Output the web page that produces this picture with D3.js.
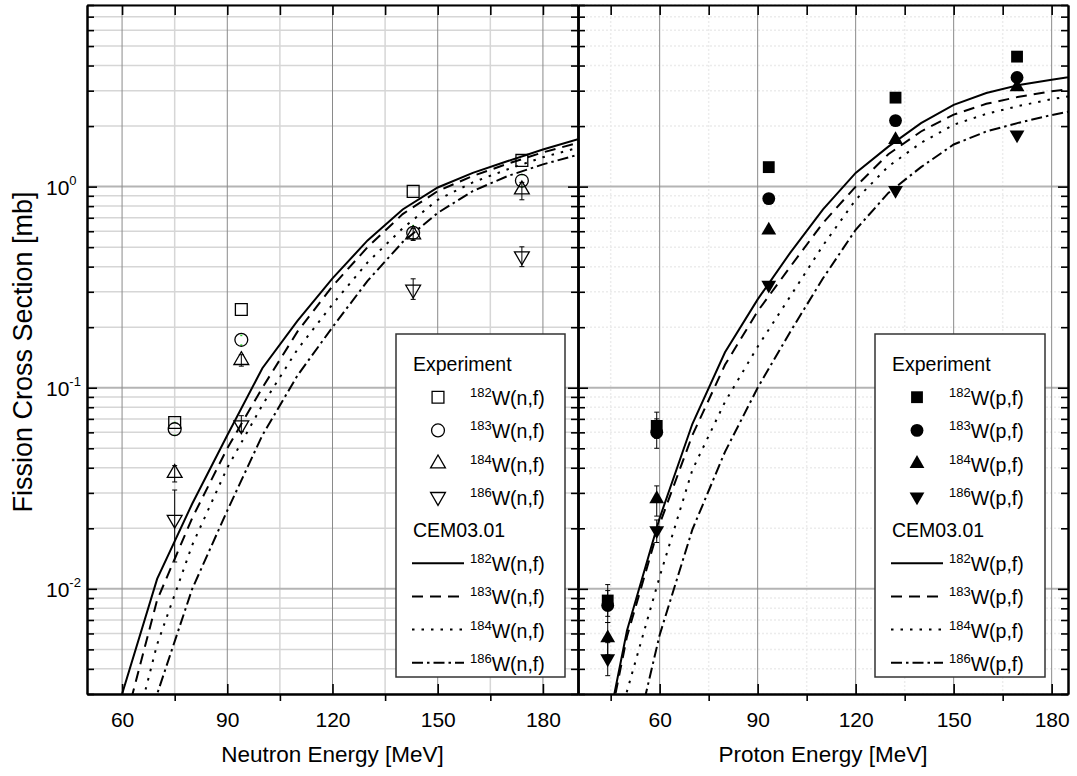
<!DOCTYPE html>
<html>
<head>
<meta charset="utf-8">
<script src="https://cdn.jsdelivr.net/npm/d3@7"></script>
<style>
  body { margin: 0; background: #fff; }
  svg { display: block; font-family: "Liberation Sans", Arial, sans-serif; }
</style>
</head>
<body>
<svg id="chart" width="1077" height="776"></svg>
<script>
// ---------------- data ----------------
var xMajor = [60, 90, 120, 150, 180];
var yDecades = [0.01, 0.1, 1];
var yDecadeLabels = ["-2", "-1", "0"];

// neutron induced fission, experiment
var nE = [75, 94, 143, 174];
var n182 = [0.0672, 0.245, 0.947, 1.35];
var n183 = [0.0622, 0.173, 0.589, 1.07];
var n183Lo = [0.058, 0.163, 0.55, 1.0];
var n183Hi = [0.0672, 0.182, 0.64, 1.147];
var n184 = [0.0376, 0.137, 0.578, 0.966];
var n184Lo = [0.034, 0.128, 0.54, 0.86];
var n184Hi = [0.041, 0.146, 0.62, 1.05];
var n186 = [0.0221, 0.0652, 0.308, 0.451];
var n186Lo = [0.0136, 0.0605, 0.275, 0.40];
var n186Hi = [0.031, 0.0726, 0.348, 0.502];

// neutron, CEM03.01
var nCalcE = [60, 70, 80, 90, 100, 110, 120, 130, 140, 150, 160, 170, 180, 190];
var n182Calc = [0.003, 0.0112, 0.0265, 0.058, 0.125, 0.215, 0.35, 0.54, 0.77, 0.99, 1.17, 1.34, 1.53, 1.72];
var n183Calc = [0.0019, 0.0088, 0.0225, 0.050, 0.10, 0.19, 0.32, 0.50, 0.73, 0.95, 1.13, 1.30, 1.48, 1.65];
var n184Calc = [0.0011, 0.0053, 0.0165, 0.040, 0.082, 0.155, 0.26, 0.42, 0.62, 0.86, 1.05, 1.22, 1.40, 1.56];
var n186Calc = [0.0008, 0.003, 0.010, 0.0245, 0.058, 0.115, 0.20, 0.34, 0.53, 0.74, 0.95, 1.13, 1.29, 1.44];

// proton induced fission, experiment
var pE = [44.1, 59.1, 93.4, 132.2, 169.4];
var p182 = [0.00875, 0.0646, 1.25, 2.77, 4.43];
var p182Lo = [0.0073, 0.056, 1.25, 2.77, 4.43];
var p182Hi = [0.0105, 0.0756, 1.25, 2.77, 4.43];
var p183 = [0.00826, 0.060, 0.872, 2.13, 3.49];
var p183Lo = [0.0068, 0.050, 0.872, 2.13, 3.49];
var p183Hi = [0.0098, 0.070, 0.872, 2.13, 3.49];
var p184 = [0.00569, 0.028, 0.607, 1.71, 3.13];
var p184Lo = [0.0047, 0.023, 0.607, 1.71, 3.13];
var p184Hi = [0.0068, 0.0325, 0.607, 1.71, 3.13];
var p186 = [0.0045, 0.0195, 0.324, 0.959, 1.81];
var p186Lo = [0.0037, 0.017, 0.324, 0.959, 1.81];
var p186Hi = [0.0054, 0.022, 0.324, 0.959, 1.81];

// proton, CEM03.01
var pCalcE = [40, 50, 60, 70, 80, 90, 100, 110, 120, 130, 140, 150, 160, 170, 180, 190];
var p182Calc = [0.00095, 0.0062, 0.0225, 0.066, 0.15, 0.275, 0.47, 0.77, 1.17, 1.58, 2.07, 2.55, 2.92, 3.2, 3.4, 3.6];
var p183Calc = [0.0009, 0.0058, 0.021, 0.058, 0.13, 0.24, 0.40, 0.66, 1.0, 1.45, 1.88, 2.28, 2.58, 2.8, 2.98, 3.12];
var p184Calc = [0.0005, 0.0031, 0.0115, 0.039, 0.085, 0.16, 0.285, 0.51, 0.86, 1.26, 1.65, 2.03, 2.3, 2.52, 2.72, 2.9];
var p186Calc = [0.0002, 0.0012, 0.0059, 0.0197, 0.048, 0.10, 0.19, 0.35, 0.61, 0.93, 1.25, 1.62, 1.88, 2.08, 2.27, 2.44];

// ---------------- layout ----------------
var svg = d3.select("#chart");
var plotTop = 5, plotBottom = 694;
var y = d3.scaleLog().domain([0.003, 8]).range([plotBottom, plotTop]);

var yMinor = [];
[0.001, 0.01, 0.1, 1].forEach(function(d) {
  for (var k = 2; k <= 9; k++) {
    var v = d * k;
    if (v >= 0.003 && v <= 8.0001) yMinor.push(v);
  }
});

var dashes = { solid: null, dash: "11,7", dot: "2.5,7", dashdot: "11,4,2.5,4" };

function isoLabel(sel, mass, rest) {
  sel.append("tspan").attr("font-size", 13).attr("dy", -8).text(mass);
  sel.append("tspan").attr("font-size", 19.5).attr("dy", 8).text(rest);
}

function drawPanel(cfg) {
  var x = d3.scaleLinear().domain(cfg.xDomain).range([cfg.x0, cfg.x1]);
  var g = svg.append("g");

  g.append("clipPath").attr("id", cfg.id + "-clip")
    .append("rect").attr("x", cfg.x0).attr("y", plotTop)
    .attr("width", cfg.x1 - cfg.x0).attr("height", plotBottom - plotTop);

  // grid
  var grid = g.append("g");
  grid.selectAll(".ym").data(yMinor).enter().append("line")
    .attr("x1", cfg.x0).attr("x2", cfg.x1)
    .attr("y1", d => y(d)).attr("y2", d => y(d))
    .attr("stroke", cfg.minorColor).attr("stroke-width", 1.5)
    .attr("stroke-dasharray", cfg.minorDash);
  grid.selectAll(".xm").data(cfg.xMinor).enter().append("line")
    .attr("x1", d => x(d)).attr("x2", d => x(d))
    .attr("y1", plotTop).attr("y2", plotBottom)
    .attr("stroke", cfg.minorColor).attr("stroke-width", 1.5)
    .attr("stroke-dasharray", cfg.minorDash);
  grid.selectAll(".yM").data(yDecades).enter().append("line")
    .attr("x1", cfg.x0).attr("x2", cfg.x1)
    .attr("y1", d => y(d)).attr("y2", d => y(d))
    .attr("stroke", "#b4b4b4").attr("stroke-width", 2);
  grid.selectAll(".xM").data(xMajor).enter().append("line")
    .attr("x1", d => x(d)).attr("x2", d => x(d))
    .attr("y1", plotTop).attr("y2", plotBottom)
    .attr("stroke", "#8a8a8a").attr("stroke-width", 1);

  // model curves
  var line = d3.line().x(d => x(d[0])).y(d => y(d[1]));
  var plot = g.append("g").attr("clip-path", "url(#" + cfg.id + "-clip)");
  cfg.curves.forEach(function(c) {
    plot.append("path")
      .datum(cfg.calcE.map((e, i) => [e, c.values[i]]))
      .attr("d", line)
      .attr("fill", "none").attr("stroke", "#000").attr("stroke-width", 2)
      .attr("stroke-dasharray", dashes[c.style]);
  });

  // experimental points
  cfg.series.forEach(function(s) {
    var pts = cfg.expE.map((e, i) => ({ e: e, v: s.values[i],
      lo: s.lo ? s.lo[i] : s.values[i], hi: s.hi ? s.hi[i] : s.values[i] }));
    var eg = plot.append("g").attr("stroke", s.errColor || "#000").attr("stroke-width", s.errColor ? 1.5 : 1);
    var cap = s.errColor ? 1 : 2.5;
    pts.filter(d => d.hi > d.lo).forEach(function(d) {
      if (!s.errColor) {
        eg.append("line").attr("x1", x(d.e)).attr("x2", x(d.e)).attr("y1", y(d.lo)).attr("y2", y(d.hi));
      }
      eg.append("line").attr("x1", x(d.e) - cap).attr("x2", x(d.e) + cap).attr("y1", y(d.lo)).attr("y2", y(d.lo));
      eg.append("line").attr("x1", x(d.e) - cap).attr("x2", x(d.e) + cap).attr("y1", y(d.hi)).attr("y2", y(d.hi));
    });
    plot.selectAll(null).data(pts).enter().append("path")
      .attr("d", d3.symbol().type(s.shape).size(s.size))
      .attr("transform", d => "translate(" + x(d.e) + "," + y(d.v) + ")" + (s.flip ? " rotate(180)" : ""))
      .attr("fill", cfg.filled ? "#000" : "none")
      .attr("stroke", "#000").attr("stroke-width", cfg.filled ? 0 : 1.3);
  });

  // axes (ticks inward)
  var axes = g.append("g");
  function ax(axis, tr) {
    var a = axes.append("g").attr("transform", tr).call(axis);
    a.select(".domain").attr("stroke", "#000").attr("stroke-width", 2);
    a.selectAll(".tick line").attr("stroke", "#000").attr("stroke-width", 1.6);
    return a;
  }
  var xb = ax(d3.axisBottom(x).tickValues(xMajor).tickSize(-10).tickSizeOuter(0).tickPadding(18),
    "translate(0," + plotBottom + ")");
  xb.selectAll("text").attr("font-size", 21).attr("fill", "#000")
    .attr("font-family", "Liberation Sans, Arial, sans-serif");
  ax(d3.axisBottom(x).tickValues(cfg.xMinor).tickSize(7).tickSizeOuter(0).tickFormat(""),
    "translate(0," + plotBottom + ")");
  ax(d3.axisTop(x).tickValues(xMajor.concat(cfg.xMinor)).tickSize(-10).tickSizeOuter(0).tickFormat(""),
    "translate(0," + plotTop + ")");
  ax(d3.axisLeft(y).tickValues(yDecades).tickSize(-10).tickSizeOuter(0).tickFormat(""),
    "translate(" + cfg.x0 + ",0)");
  ax(d3.axisLeft(y).tickValues(yMinor).tickSize(-7).tickSizeOuter(0).tickFormat(""),
    "translate(" + cfg.x0 + ",0)");
  ax(d3.axisRight(y).tickValues(yDecades).tickSize(-10).tickSizeOuter(0).tickFormat(""),
    "translate(" + cfg.x1 + ",0)");
  ax(d3.axisRight(y).tickValues(yMinor).tickSize(-7).tickSizeOuter(0).tickFormat(""),
    "translate(" + cfg.x1 + ",0)");

  // x title
  g.append("text").attr("x", (cfg.x0 + cfg.x1) / 2).attr("y", 762)
    .attr("text-anchor", "middle").attr("font-size", 22.5).text(cfg.xTitle);

  // legend
  var L = cfg.legend;
  var lg = g.append("g");
  lg.append("rect").attr("x", L.x).attr("y", L.y).attr("width", L.w).attr("height", L.h)
    .attr("fill", "#fff").attr("stroke", "#333").attr("stroke-width", 1.5);
  var row = 33.2, r0 = L.y + 30;
  lg.append("text").attr("x", L.textX0).attr("y", r0 + 7).attr("font-size", 19.5).text("Experiment");
  cfg.series.forEach(function(s, i) {
    var cy = r0 + row * (i + 1);
    lg.append("path")
      .attr("d", d3.symbol().type(s.shape).size(s.size))
      .attr("transform", "translate(" + L.symX + "," + cy + ")" + (s.flip ? " rotate(180)" : ""))
      .attr("fill", cfg.filled ? "#000" : "none")
      .attr("stroke", "#000").attr("stroke-width", cfg.filled ? 0 : 1.3);
    lg.append("text").attr("x", L.labelX).attr("y", cy + 8).call(isoLabel, s.mass, cfg.reaction);
  });
  lg.append("text").attr("x", L.textX0).attr("y", r0 + row * 5 + 7).attr("font-size", 19.5).text("CEM03.01");
  cfg.curves.forEach(function(c, i) {
    var cy = r0 + row * (6 + i);
    lg.append("line").attr("x1", L.lineX0).attr("x2", L.lineX1).attr("y1", cy).attr("y2", cy)
      .attr("stroke", "#000").attr("stroke-width", 2).attr("stroke-dasharray", dashes[c.style]);
    lg.append("text").attr("x", L.labelX).attr("y", cy + 8).call(isoLabel, c.mass, cfg.reaction);
  });
  return x;
}

var triSize = 95, sqSize = 140, circSize = 130;

drawPanel({
  id: "neutron", x0: 87, x1: 578, xDomain: [50, 190], xMinor: [75, 105, 135, 165],
  minorColor: "#d6d6d6", minorDash: null,
  xTitle: "Neutron Energy [MeV]", reaction: "W(n,f)", filled: false,
  expE: nE, calcE: nCalcE,
  series: [
    { mass: "182", values: n182, shape: d3.symbolSquare, size: sqSize },
    { mass: "183", values: n183, lo: n183Lo, hi: n183Hi, errColor: "#22cc22", shape: d3.symbolCircle, size: circSize },
    { mass: "184", values: n184, lo: n184Lo, hi: n184Hi, shape: d3.symbolTriangle, size: triSize },
    { mass: "186", values: n186, lo: n186Lo, hi: n186Hi, shape: d3.symbolTriangle, size: triSize, flip: true }
  ],
  curves: [
    { mass: "182", values: n182Calc, style: "solid" },
    { mass: "183", values: n183Calc, style: "dash" },
    { mass: "184", values: n184Calc, style: "dot" },
    { mass: "186", values: n186Calc, style: "dashdot" }
  ],
  legend: { x: 396, y: 334, w: 169, h: 343, textX0: 413, symX: 438, labelX: 470, lineX0: 412, lineX1: 464 }
});

drawPanel({
  id: "proton", x0: 578, x1: 1068, xDomain: [35, 185], xMinor: [45, 75, 105, 135, 165],
  minorColor: "#ececec", minorDash: "2,2",
  xTitle: "Proton Energy [MeV]", reaction: "W(p,f)", filled: true,
  expE: pE, calcE: pCalcE,
  series: [
    { mass: "182", values: p182, lo: p182Lo, hi: p182Hi, shape: d3.symbolSquare, size: sqSize },
    { mass: "183", values: p183, lo: p183Lo, hi: p183Hi, shape: d3.symbolCircle, size: circSize },
    { mass: "184", values: p184, lo: p184Lo, hi: p184Hi, shape: d3.symbolTriangle, size: triSize },
    { mass: "186", values: p186, lo: p186Lo, hi: p186Hi, shape: d3.symbolTriangle, size: triSize, flip: true }
  ],
  curves: [
    { mass: "182", values: p182Calc, style: "solid" },
    { mass: "183", values: p183Calc, style: "dash" },
    { mass: "184", values: p184Calc, style: "dot" },
    { mass: "186", values: p186Calc, style: "dashdot" }
  ],
  legend: { x: 875, y: 334, w: 170, h: 343, textX0: 892, symX: 917, labelX: 949, lineX0: 891, lineX1: 943 }
});

// y axis labels (left panel only)
var yl = svg.append("g");
yDecades.forEach(function(d, i) {
  var t = yl.append("text").attr("x", 46).attr("y", y(d) + 8).attr("font-size", 21);
  t.append("tspan").text("10");
  t.append("tspan").attr("font-size", 13).attr("dy", -10).text(yDecadeLabels[i]);
});
svg.append("text")
  .attr("transform", "translate(32,352) rotate(-90)")
  .attr("text-anchor", "middle").attr("font-size", 27)
  .text("Fission Cross Section [mb]");
</script>
</body>
</html>
